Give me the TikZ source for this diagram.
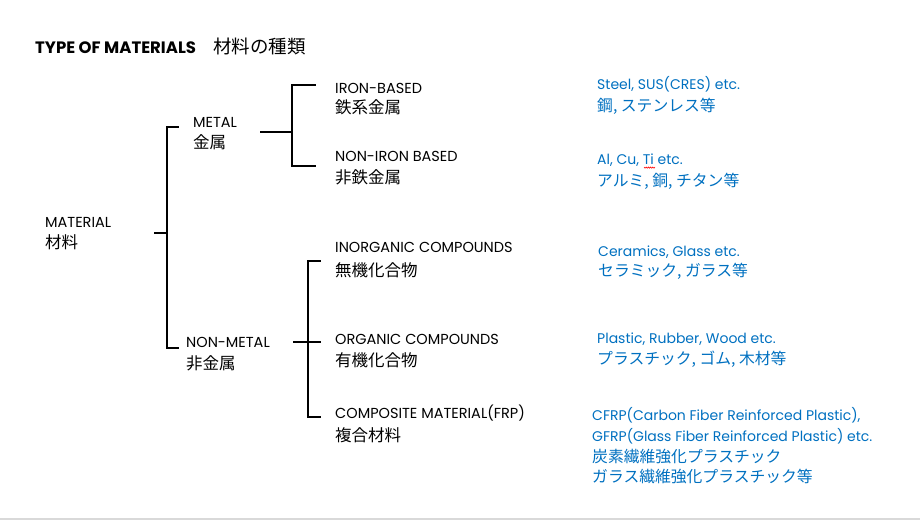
\documentclass[tikz,border=0pt]{standalone}
\usepackage{fontspec}
\setmainfont{Poppins}
\newfontfamily\cjk{Noto Sans CJK JP}
\definecolor{noteblue}{HTML}{0070C0}

\begin{document}
\begin{tikzpicture}
                [x=1pt, y=-1pt,
                    every node/.style={inner sep=0pt, anchor=base west},
                    en/.style={font=\fontsize{14.5}{16}\selectfont},
                    ja/.style={font=\fontsize{16.5}{18}\cjk},
                    note/.style={text=noteblue},
                    noteen/.style={font=\fontsize{14}{16}\selectfont, note},
                    noteja/.style={font=\fontsize{15.8}{18}\cjk, note},
                    bracket/.style={line width=1.8pt, line cap=rect},
                ]
                \useasboundingbox (0,0) rectangle (920,520);
                \draw[black!15, line width=1.5pt] (0,519) -- (920,519);
                % title
                \node[font=\fontsize{16.5}{18}\selectfont\bfseries] (title) at (35,53) {TYPE OF MATERIALS};
                \node[font=\fontsize{18.5}{20}\cjk] (title-jp) at (213,53) {材料の種類};
                % categories
                \node[en] (material) at (45,227.5) {MATERIAL};
                \node[ja] (material-jp) at (45,248) {材料};
                \node[en] (metal) at (193,127.5) {METAL};
                \node[ja] (metal-jp) at (193,148.5) {金属};
                \node[en] (nonmetal) at (186,347.5) {NON-METAL};
                \node[ja] (nonmetal-jp) at (186,369) {非金属};
                \node[en] (iron) at (335,93.5) {IRON-BASED};
                \node[ja] (iron-jp) at (335,113) {鉄系金属};
                \node[en] (noniron) at (335,161.5) {NON-IRON BASED};
                \node[ja] (noniron-jp) at (335,183) {非鉄金属};
                \node[en] (inorg) at (335,252.5) {INORGANIC COMPOUNDS};
                \node[ja] (inorg-jp) at (335,276) {無機化合物};
                \node[en] (org) at (335,344.5) {ORGANIC COMPOUNDS};
                \node[ja] (org-jp) at (335,366) {有機化合物};
                \node[en] (comp) at (335,418.5) {COMPOSITE MATERIAL(FRP)};
                \node[ja] (comp-jp) at (335,441) {複合材料};
                % examples
                \node[noteen] (iron-ex) at (597,89.5) {Steel, SUS(CRES) etc.};
                \node[noteja] (iron-ex-jp) at (597,111) {鋼, ステンレス等};
                \node[noteen] (noniron-ex) at (597,164.5) {Al, Cu, Ti etc.};
                \node[noteja] (noniron-ex-jp) at (597,186) {アルミ, 銅, チタン等};
                \node[noteen] (inorg-ex) at (598,256) {Ceramics, Glass etc.};
                \node[noteja] (inorg-ex-jp) at (598,276.5) {セラミック, ガラス等};
                \node[noteen] (org-ex) at (597,343) {Plastic, Rubber, Wood etc.};
                \node[noteja] (org-ex-jp) at (597,364) {プラスチック, ゴム, 木材等};
                \node[noteen] (comp-ex) at (592,420.5) {CFRP(Carbon Fiber Reinforced Plastic),};
                \node[noteen] (comp-ex2) at (592,441) {GFRP(Glass Fiber Reinforced Plastic) etc.};
                \node[noteja] (comp-ex-jp) at (592,462) {炭素繊維強化プラスチック};
                \node[noteja] (comp-ex2-jp) at (592,482.5) {ガラス繊維強化プラスチック等};
                % wavy mark under Ti
                \draw[red, line width=0.6pt] ([xshift=47pt, yshift=-2.5pt]noniron-ex.base west)
                    \foreach \i in {1,...,5} { -- ++(1.1,1.2) -- ++(1.1,-1.2) };
                % brackets
                \coordinate (material-r) at (155,233);
                \coordinate (to-metal) at (178,127);
                \coordinate (to-nonmetal) at (178,348);
                \draw[bracket] (material-r) -- ++(12,0);
                \draw[bracket] (to-metal) -- ++(-11,0) |- (to-nonmetal);
                \coordinate (metal-r) at (261,132);
                \coordinate (to-iron) at (315,85);
                \coordinate (to-noniron) at (315,166);
                \draw[bracket] (metal-r) -- ++(31,0);
                \draw[bracket] (to-iron) -- ++(-23,0) |- (to-noniron);
                \coordinate (nonmetal-r) at (294,342);
                \coordinate (to-inorg) at (320,261);
                \coordinate (to-comp) at (320,417);
                \draw[bracket] (nonmetal-r) -- ++(26,0) coordinate (to-org);
                \draw[bracket] (to-inorg) -- ++(-12,0) |- (to-comp);
            \end{tikzpicture}
\end{document}
